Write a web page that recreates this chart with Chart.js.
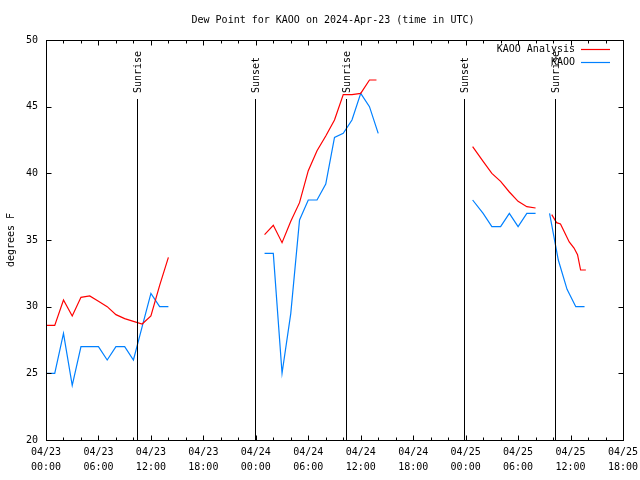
<!DOCTYPE html>
<html>
<head>
<meta charset="utf-8">
<script src="https://cdn.jsdelivr.net/npm/chart.js@4/dist/chart.umd.min.js"></script>
<style>
  html, body { margin: 0; padding: 0; background: #fff; }
  #wrap { width: 640px; height: 480px; }
</style>
</head>
<body>
<div id="wrap"><canvas id="dewChart" width="640" height="480"></canvas></div>
<script>
// hours since 2024-04-23 00:00 UTC, null value = gap in the record
const analysisHours = [0, 1, 2, 3, 4, 5, 6, 7, 8, 9, 10, 11, 12, 13, 14, 14.5,
  25, 26, 27, 28, 29, 30, 31, 32, 33, 34, 35, 36, 37, 37.8, 40,
  48.8, 50, 51, 52, 53, 54, 55, 56, 57,
  57.85, 58.4, 58.85, 59.85, 60.4, 60.8, 61.15, 61.75];
const analysisDew = [28.6, 28.6, 30.5, 29.3, 30.7, 30.8, 30.4, 30.0, 29.4, 29.1, 28.9, 28.7, 29.3, 31.6, 33.7, null,
  35.4, 36.1, 34.8, 36.4, 37.8, 40.2, 41.7, 42.8, 44.0, 45.9, 45.9, 46.0, 47.0, 47.0, null,
  42.0, 40.9, 40.0, 39.4, 38.6, 37.9, 37.5, 37.4, null,
  36.9, 36.3, 36.2, 34.85, 34.4, 33.9, 32.75, 32.75];

const obsHours = [0, 1, 2, 3, 4, 5, 6, 7, 8, 9, 10, 11, 12, 13, 14, 14.5,
  25, 26, 27, 28, 29, 30, 31, 32, 33, 34, 35, 36, 37, 38, 40,
  48.8, 50, 51, 52, 53, 54, 55, 56, 57,
  57.6, 58.6, 59.6, 60.6, 61.6];
const obsDew = [25, 25, 28, 24.1, 27, 27, 27, 26, 27, 27, 26, 28.5, 31, 30, 30, null,
  34, 34, 25, 29.5, 36.5, 38, 38, 39.2, 42.7, 43, 44, 46, 45, 43, null,
  38, 37, 36, 36, 37, 36, 37, 37, null,
  37, 33.5, 31.3, 30, 30];

const eventHours = [10.42, 23.93, 34.35, 47.85, 58.22];
const eventNames = ["Sunrise", "Sunset", "Sunrise", "Sunset", "Sunrise"];

const tickDays = ["04/23", "04/23", "04/23", "04/23", "04/24", "04/24", "04/24", "04/24", "04/25", "04/25", "04/25", "04/25"];
const tickTimes = ["00:00", "06:00", "12:00", "18:00", "00:00", "06:00", "12:00", "18:00", "00:00", "06:00", "12:00", "18:00"];

const seriesNames = ["KAOO Analysis", "KAOO"];
const seriesColors = ["#ff0000", "#0080ff"];

const FONT = "DejaVu Sans Mono";

function toPoints(xs, ys) {
  return xs.map((x, i) => ({ x: x, y: ys[i] }));
}

// gnuplot-like frame, inward ticks, event markers, legend and titles
const decorations = {
  id: "decorations",
  afterDatasetsDraw(chart) {
    const ctx = chart.ctx;
    const area = chart.chartArea;
    const xs = chart.scales.x;
    const ys = chart.scales.y;
    const L = Math.round(area.left) + 0.5, R = Math.round(area.right) + 0.5;
    const T = Math.round(area.top) + 0.5, B = Math.round(area.bottom) + 0.5;

    ctx.save();
    ctx.strokeStyle = "#000";
    ctx.lineWidth = 1;

    // event lines
    ctx.font = "10px " + FONT;
    ctx.fillStyle = "#000";
    eventHours.forEach((h, i) => {
      const px = Math.round(xs.getPixelForValue(h)) + 0.5;
      ctx.beginPath();
      ctx.moveTo(px, 99);
      ctx.lineTo(px, B);
      ctx.stroke();
      ctx.save();
      ctx.translate(px + 0.5, 93);
      ctx.rotate(-Math.PI / 2);
      ctx.textAlign = "left";
      ctx.textBaseline = "middle";
      ctx.fillText(eventNames[i], 0, 0);
      ctx.restore();
    });

    // border
    ctx.strokeRect(L, T, R - L, B - T);

    // x ticks every 2 hours
    ctx.beginPath();
    for (let h = 0; h <= 66; h += 2) {
      const px = Math.round(xs.getPixelForValue(h)) + 0.5;
      const len = h % 6 === 0 ? 5 : 3;
      ctx.moveTo(px, B); ctx.lineTo(px, B - len);
      ctx.moveTo(px, T); ctx.lineTo(px, T + len);
    }
    // y ticks every 5 degrees
    for (let v = 20; v <= 50; v += 5) {
      const py = Math.round(ys.getPixelForValue(v)) + 0.5;
      ctx.moveTo(L, py); ctx.lineTo(L + 5, py);
      ctx.moveTo(R, py); ctx.lineTo(R - 5, py);
    }
    ctx.stroke();

    // legend
    ctx.textAlign = "right";
    ctx.textBaseline = "middle";
    seriesNames.forEach((name, i) => {
      const y = 49 + i * 13;
      ctx.fillStyle = "#000";
      ctx.fillText(name, 575, y);
      ctx.strokeStyle = seriesColors[i];
      ctx.lineWidth = 1.2;
      ctx.beginPath();
      ctx.moveTo(581, y + 0.5);
      ctx.lineTo(610, y + 0.5);
      ctx.stroke();
    });

    // title
    ctx.fillStyle = "#000";
    ctx.textAlign = "center";
    ctx.fillText("Dew Point for KAOO on 2024-Apr-23 (time in UTC)", 333, 20);

    // y axis title
    ctx.save();
    ctx.translate(11, 240);
    ctx.rotate(-Math.PI / 2);
    ctx.textAlign = "center";
    ctx.textBaseline = "middle";
    ctx.fillText("degrees F", 0, 0);
    ctx.restore();

    ctx.restore();
  }
};

new Chart(document.getElementById("dewChart"), {
  type: "line",
  data: {
    datasets: [
      {
        label: seriesNames[0],
        data: toPoints(analysisHours, analysisDew),
        borderColor: seriesColors[0],
        borderWidth: 1.2,
        pointRadius: 0,
        tension: 0,
        spanGaps: false
      },
      {
        label: seriesNames[1],
        data: toPoints(obsHours, obsDew),
        borderColor: seriesColors[1],
        borderWidth: 1.2,
        pointRadius: 0,
        tension: 0,
        spanGaps: false
      }
    ]
  },
  options: {
    responsive: false,
    animation: false,
    events: [],
    layout: { padding: { top: 40, right: 17, left: 0, bottom: 0 } },
    plugins: {
      legend: { display: false },
      title: { display: false },
      tooltip: { enabled: false }
    },
    scales: {
      x: {
        type: "linear",
        min: 0,
        max: 66,
        grid: { display: false, drawTicks: false },
        border: { display: false },
        afterFit(scale) {
          scale.height = 40;
          scale.paddingLeft = 0;
          scale.paddingRight = 0;
        },
        ticks: {
          stepSize: 6,
          autoSkip: false,
          maxRotation: 0,
          padding: 5,
          color: "#000",
          font: { family: FONT, size: 10, lineHeight: 1.5 },
          callback: (v) => {
            const i = Math.round(v / 6);
            return [tickDays[i], tickTimes[i]];
          }
        }
      },
      y: {
        min: 20,
        max: 50,
        grid: { display: false, drawTicks: false },
        border: { display: false },
        afterFit(scale) { scale.width = 46; },
        ticks: {
          stepSize: 5,
          padding: 8,
          color: "#000",
          font: { family: FONT, size: 10 }
        }
      }
    }
  },
  plugins: [decorations]
});
</script>
</body>
</html>
